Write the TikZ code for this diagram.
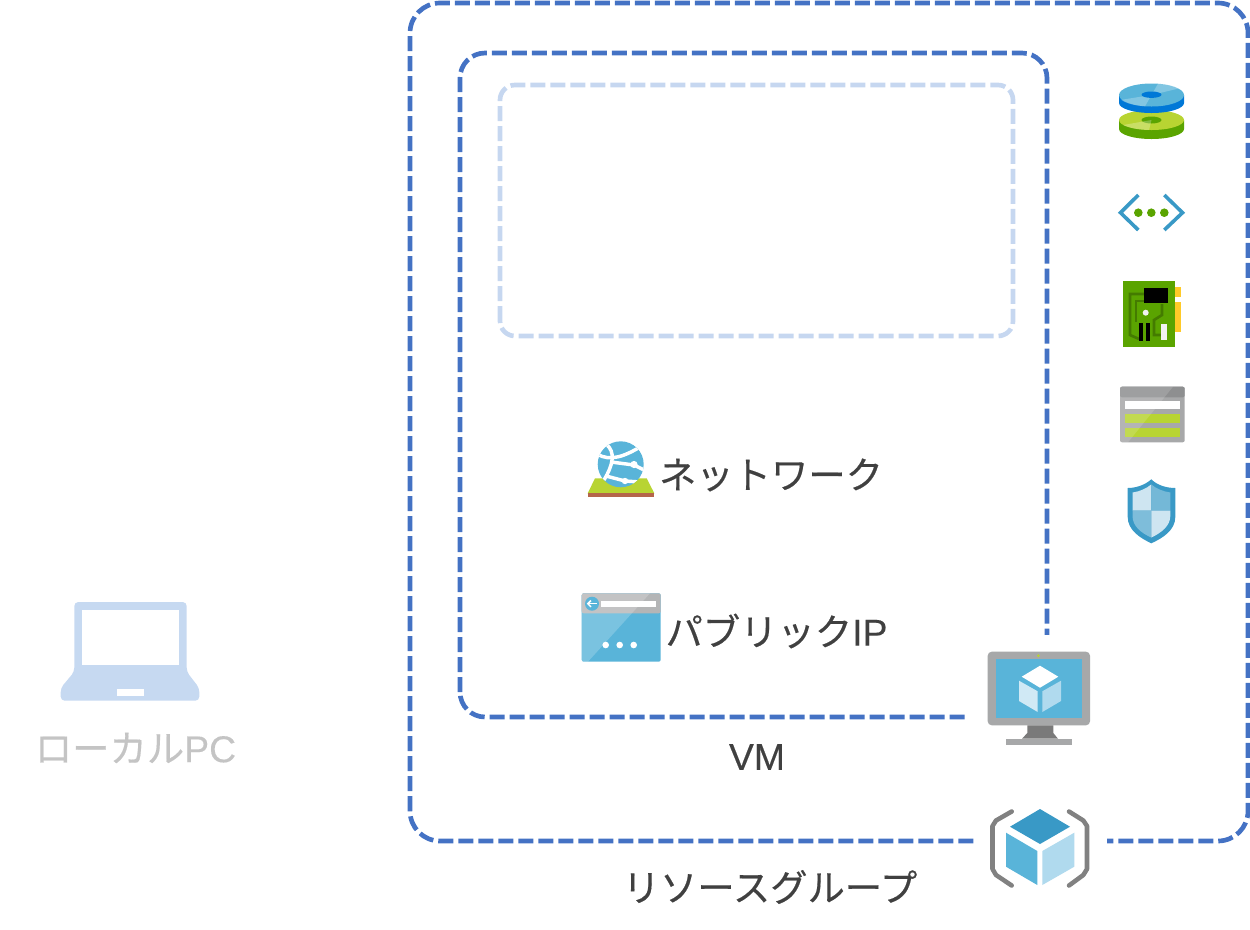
\documentclass[tikz,border=0pt]{standalone}
\usepackage{fontspec}
\setmainfont[FakeBold=0.25]{Liberation Sans}
\newfontfamily\jp[FakeBold=0.35]{Noto Sans CJK JP}
\definecolor{frameblue}{HTML}{4472C4}
\definecolor{framelight}{HTML}{C6D7F0}
\definecolor{laptop}{HTML}{C6D9F1}
\definecolor{azure}{HTML}{59B4D9}
\definecolor{azuredark}{HTML}{3999C6}
\definecolor{azurelight}{HTML}{B0DAEE}
\definecolor{diskblue}{HTML}{0078D7}
\definecolor{grayicon}{HTML}{A7A8A9}
\definecolor{graydark}{HTML}{7A7A7A}
\definecolor{lime}{HTML}{B8D432}
\definecolor{leaf}{HTML}{5AA400}
\definecolor{gold}{HTML}{FFCA28}
\definecolor{clay}{HTML}{B5654A}
\definecolor{txt}{HTML}{404040}
\definecolor{txtlight}{HTML}{C4C4C4}
\tikzset{
  frameline/.style={line width=3.5pt,dash pattern=on 11.25pt off 3.75pt,rounded corners=#1},
  label/.style={inner sep=0pt,text=txt,font=\fontsize{28pt}{32pt}\selectfont,anchor=center},
  mask/.style={fill=white,draw=none},
}
\begin{document}
\begin{tikzpicture}[x=0.75pt,y=-0.75pt]
\useasboundingbox (0,0) rectangle (1250,929);
% frames
\draw[frameline=30*0.75pt,draw=frameblue] (410,841) -- (410,3) -- (1248,3) -- (1248,841) -- cycle;
\draw[frameline=25*0.75pt,draw=frameblue] (460,717) -- (460,53) -- (1047,53) -- (1047,717) -- cycle;
\draw[frameline=15*0.75pt,draw=framelight] (500,336) -- (500,85) -- (1013,85) -- (1013,336) -- cycle;
\fill[mask] (965,635) rectangle (1100,750);
\fill[mask] (975,800) rectangle (1107,895);
% laptop
\fill[laptop,rounded corners=3pt] (74.3,671.7) -- (74.3,602) -- (186.7,602) -- (186.7,671.7) -- (199.3,688) -- (199.3,700.7) -- (60.7,700.7) -- (60.7,688) -- cycle;
\fill[white] (82.3,610) rectangle (179,664.7);
\fill[white] (117.3,689) rectangle (143.7,695.7);
% disks
\fill[leaf] (1119,120) -- (1119,129) arc[x radius=32.5,y radius=10,start angle=180,end angle=0] -- (1184,120) -- cycle;
\fill[lime] (1151.5,120) ellipse[x radius=32.5,y radius=10];
\fill[leaf] (1151.5,120) ellipse[x radius=10,y radius=3.5];
\fill[white,opacity=.25] (1151.5,120) -- (1149,130) arc[x radius=32.5,y radius=10,start angle=94,end angle=150] -- cycle;
\fill[diskblue] (1119,95) -- (1119,103) arc[x radius=32.5,y radius=10,start angle=180,end angle=0] -- (1184,95) -- cycle;
\fill[azure] (1151.5,95) ellipse[x radius=32.5,y radius=11.5];
\fill[white,opacity=.25] (1151.5,95) -- (1145,106.3) arc[x radius=32.5,y radius=11.5,start angle=100,end angle=155] -- cycle;
\fill[white,opacity=.25] (1151.5,95) -- (1158,83.7) arc[x radius=32.5,y radius=11.5,start angle=-80,end angle=-35] -- cycle;
\fill[diskblue] (1151.5,94.7) ellipse[x radius=10,y radius=3.2];
% virtual network
\draw[azuredark,line width=2.7pt] (1138.3,195) -- (1120.5,212.7) -- (1138.3,230);
\draw[azuredark,line width=2.7pt] (1164.3,195) -- (1182.5,212.7) -- (1164.3,230);
\foreach \px in {1138.3,1151.3,1164.3} \fill[leaf] (\px,212.7) circle[radius=4.3];
% network card
\fill[leaf] (1122.7,281) rectangle (1174.7,347);
\fill[gold] (1175,286.7) rectangle (1180.7,297.3);
\fill[gold] (1175,302.3) rectangle (1180.7,332);
\draw[leaf!75!black,line width=2pt] (1144,294) -- (1130,294) -- (1130,335) -- (1139,339);
\draw[leaf!75!black,line width=2pt] (1144,301) -- (1136,301) -- (1136,322);
\draw[leaf!75!black,line width=2pt] (1162,304) -- (1162,315) -- (1154,320) -- (1154,335) -- (1161,335);
\fill[black] (1144,287.7) rectangle (1168,303);
\fill[black] (1139,322.7) rectangle (1143.3,340.7);
\fill[black] (1146,322.7) rectangle (1150.3,340.7);
\fill[white!90!gray] (1161.3,323.7) rectangle (1167,339.7);
\fill[white!90!gray] (1145.7,312.7) circle[radius=3];
% storage
\fill[grayicon,rounded corners=1.5pt] (1120,386.7) rectangle (1184.7,442.3);
\fill[grayicon!85!black,rounded corners=1.5pt] (1120,386.7) rectangle (1184.7,397.3);
\fill[white] (1125,400.7) rectangle (1179.7,409.3);
\fill[lime] (1125,414) rectangle (1179.7,423.3);
\fill[lime] (1125,428) rectangle (1179.7,437.3);
\fill[white,opacity=.15] (1120,386.7) -- (1173,386.7) -- (1128,442.3) -- (1120,442.3) -- cycle;
% shield
\fill[azuredark] (1151.3,479.3) .. controls (1145,485) and (1136,488) .. (1127.7,488) -- (1127.7,517) .. controls (1127.7,530) and (1140,538) .. (1151.3,543.3) .. controls (1163,538) and (1175.3,530) .. (1175.3,517) -- (1175.3,488) .. controls (1166,488) and (1157,485) .. (1151.3,479.3) -- cycle;
\fill[azuredark!25!white] (1151.3,484.5) .. controls (1146,488.5) and (1140,491.5) .. (1132.5,492.5) -- (1132.5,510.7) -- (1151.3,510.7) -- cycle;
\fill[azuredark!70!white] (1151.3,484.5) .. controls (1156,488.5) and (1163,491.5) .. (1170.3,492.5) -- (1170.3,510.7) -- (1151.3,510.7) -- cycle;
\fill[azuredark!65!white] (1132.5,510.7) -- (1151.3,510.7) -- (1151.3,537.5) .. controls (1141,533) and (1132.5,526) .. (1132.5,516) -- cycle;
\fill[azuredark!25!white] (1170.3,510.7) -- (1151.3,510.7) -- (1151.3,537.5) .. controls (1161,533) and (1170.3,526) .. (1170.3,516) -- cycle;
% web app / network
\fill[lime] (595,478.3) -- (646.7,478.3) -- (654.3,493.3) -- (587.7,493.3) -- cycle;
\fill[clay] (587.7,493.3) rectangle (654.3,497.3);
\fill[azure] (620.7,464.3) circle[radius=23];
\begin{scope}
\clip (620.7,464.3) circle[radius=23];
\draw[white,line width=2.6pt] (606,444) .. controls (616,452) and (613,465) .. (604,480);
\draw[white,line width=2.6pt] (597,454) .. controls (610,462) and (625,456) .. (640,447);
\draw[white,line width=2.6pt] (611,462) -- (634,465) -- (646,471);
\draw[white,line width=2.6pt] (606,476) -- (625,481) -- (640,482);
\fill[white] (634,464.5) circle[radius=3.6];
\fill[white] (625,481) circle[radius=3.2];
\end{scope}
% public ip
\fill[azure,rounded corners=1.5pt] (581.7,593.3) rectangle (660.7,661.7);
\fill[grayicon!85!white,rounded corners=1.5pt] (581.7,593.3) rectangle (660.7,613.3);
\fill[white,opacity=.2] (581.7,593.3) -- (650,593.3) -- (588,661.7) -- (581.7,661.7) -- cycle;
\fill[azure] (592,603.7) circle[radius=7];
\draw[white,line width=1.1pt] (596.5,603.7) -- (588,603.7);
\draw[white,line width=1.1pt] (591,600.5) -- (587.8,603.7) -- (591,606.9);
\fill[white] (601,601) rectangle (655.7,607);
\foreach \px in {605.7,619.7,633.7} \fill[white] (\px,645) circle[radius=3.3];
% VM monitor
\fill[grayicon,rounded corners=3pt] (987.7,651.7) rectangle (1090,725.3);
\fill[azure] (995.7,659.3) rectangle (1082.3,718);
\fill[lime] (1038.3,655.7) circle[radius=1.5];
\fill[graydark] (1027.3,725.3) -- (1053.3,725.3) -- (1053.3,733) -- (1058,738.7) -- (1022,738.7) -- (1027.3,733) -- cycle;
\fill[grayicon] (1006,738.7) rectangle (1072,745.3);
\fill[white] (1040,665.7) -- (1058.3,676.7) -- (1040,687.7) -- (1021.7,676.7) -- cycle;
\fill[azurelight!60!white] (1019,680.7) -- (1037.7,691.3) -- (1037.7,712) -- (1019,701) -- cycle;
\fill[azurelight] (1042.3,691.3) -- (1061,680.7) -- (1061,701) -- (1042.3,712) -- cycle;
% resource group
\draw[graydark!95!white,line width=3.4pt,line join=round,line cap=round] (1011.7,811.5) -- (996,820.5) -- (992.5,826) -- (992.5,869) -- (996,875) -- (1011.7,885.5);
\draw[graydark!95!white,line width=3.4pt,line join=round,line cap=round] (1069,811.5) -- (1083.3,820.5) -- (1087,826) -- (1087,869) -- (1083.3,875) -- (1069,885.5);
\fill[azuredark] (1040,809) -- (1070,826.7) -- (1040,844) -- (1010,826.7) -- cycle;
\fill[azure] (1006,832.7) -- (1037.3,851) -- (1037.3,885) -- (1006,866.7) -- cycle;
\fill[azurelight] (1042.3,851) -- (1074.3,832.7) -- (1074.3,866.7) -- (1042.3,885) -- cycle;
% labels
\node[label] (netlabel) at (771,475) {\jp ネットワーク};
\node[label] (iplabel) at (776.5,631) {\jp パブリック\rmfamily IP};
\node[label,text=txtlight] (pclabel) at (135.5,748) {\jp ローカル\rmfamily PC};
\node[label] (vmlabel) at (757,757) {VM};
\node[label] (rglabel) at (770,887) {\jp リソースグループ};
\end{tikzpicture}
\end{document}
